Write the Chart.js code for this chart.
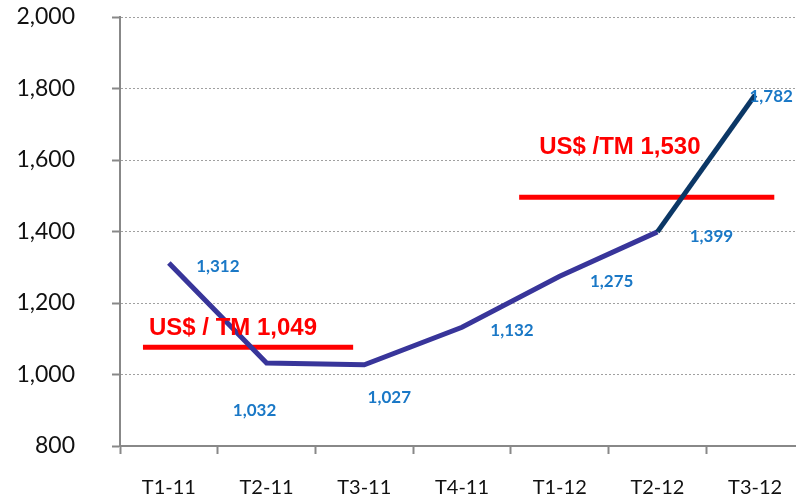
<!DOCTYPE html>
<html>
<head>
<meta charset="utf-8">
<script src="https://cdn.jsdelivr.net/npm/chart.js@4.4.0/dist/chart.umd.min.js"></script>
<style>
  body { margin: 0; background: #fff; overflow: hidden; }
  #wrap { width: 810px; height: 502px; position: relative; }
</style>
</head>
<body>
<div id="wrap"><canvas id="myChart"></canvas></div>
<script>
  // donnees
  var quarters = ['T1-11', 'T2-11', 'T3-11', 'T4-11', 'T1-12', 'T2-12', 'T3-12'];
  var prices = [1312, 1032, 1027, 1132, 1275, 1399, 1782];
  var priceLabels = ['1,312', '1,032', '1,027', '1,132', '1,275', '1,399', '1,782'];
  var yTicks = [800, 1000, 1200, 1400, 1600, 1800, 2000];

  // lignes rouges de prix moyen (niveau, debut, fin en index de trimestre)
  var avgLevels = [1076, 1496];
  var avgStart = [-0.265, 3.585];
  var avgEnd = [1.886, 6.196];
  var avgTexts = ['US$ / TM 1,049', 'US$ /TM 1,530'];

  // decalage des etiquettes par rapport aux points (px)
  var labelOffsets = [[49, 4], [-12, 47], [25, 33], [50, 3], [52, 5], [54, 5], [16, 2]];
  var avgTextOffsets = [[6, -19], [20, -50]];

  var datasets = [{
    label: 'prix',
    data: prices,
    xAxisID: 'x',
    borderColor: '#38359a',
    borderWidth: 5,
    pointRadius: 0,
    tension: 0,
    fill: false,
    segment: {
      borderColor: function(ctx) { return ctx.p1DataIndex === 6 ? '#0b3766' : '#38359a'; }
    },
    order: 1
  }];
  avgLevels.forEach(function(v, i) {
    datasets.push({
      label: 'moyenne' + i,
      data: [{x: avgStart[i], y: v}, {x: avgEnd[i], y: v}],
      xAxisID: 'xr',
      borderColor: '#ff0000',
      borderWidth: 5,
      borderCapStyle: 'butt',
      pointRadius: 0,
      fill: false,
      order: 2
    });
  });

  var textPlugin = {
    id: 'textPlugin',
    afterDatasetsDraw: function(chart) {
      var ctx = chart.ctx;
      var meta = chart.getDatasetMeta(0);
      ctx.save();
      ctx.font = 'bold 17px Lato';
      ctx.fillStyle = '#1a78c6';
      ctx.textAlign = 'center';
      ctx.textBaseline = 'middle';
      meta.data.forEach(function(pt, i) {
        ctx.fillText(priceLabels[i], pt.x + labelOffsets[i][0], pt.y + labelOffsets[i][1]);
      });
      ctx.font = 'bold 24px "Liberation Sans", Arial';
      ctx.fillStyle = '#ff0000';
      ctx.textAlign = 'left';
      var xr = chart.scales.xr, y = chart.scales.y;
      avgLevels.forEach(function(v, i) {
        var px = xr.getPixelForValue(avgStart[i]);
        var py = y.getPixelForValue(v);
        ctx.fillText(avgTexts[i], px + avgTextOffsets[i][0], py + avgTextOffsets[i][1]);
      });
      ctx.restore();
    }
  };

  var ctx = document.getElementById('myChart').getContext('2d');
  var myChart = new Chart(ctx, {
    type: 'line',
    data: { labels: quarters, datasets: datasets },
    plugins: [textPlugin],
    options: {
      responsive: true,
      maintainAspectRatio: false,
      animation: false,
      layout: { padding: { top: 17, right: 6, left: 0, bottom: 0 } },
      plugins: { legend: { display: false }, tooltip: { enabled: false } },
      scales: {
        x: {
          type: 'category',
          offset: true,
          grid: {
            offset: true,
            drawOnChartArea: false,
            drawTicks: true,
            tickLength: 8,
            tickColor: '#888',
            tickWidth: 2
          },
          border: { display: true, color: '#888', width: 2 },
          ticks: { color: '#111', font: { family: 'Lato', size: 20 }, padding: 22, maxRotation: 0 },
          afterFit: function(scale) {
            scale.height = 56;
            scale.paddingLeft = 0;
            scale.paddingRight = 0;
          }
        },
        xr: {
          type: 'linear',
          display: false,
          min: -0.5,
          max: 6.5
        },
        y: {
          min: 800,
          max: 2000,
          afterBuildTicks: function(scale) {
            scale.ticks = yTicks.map(function(v) { return { value: v }; });
          },
          grid: {
            color: function(c) { return c.tick && c.tick.value === 800 ? 'rgba(0,0,0,0)' : '#a0a0a0'; },
            lineWidth: 1,
            drawTicks: true,
            tickLength: 8,
            tickColor: '#888',
            tickWidth: 2,
            tickBorderDash: []
          },
          border: { display: true, color: '#888', width: 2, dash: [2, 2] },
          ticks: {
            color: '#111',
            font: { family: 'Lato', size: 23 },
            padding: 37,
            callback: function(v) { return v.toLocaleString('en-US'); }
          },
          afterFit: function(scale) {
            scale.width = 120;
            scale.paddingTop = 0;
            scale.paddingBottom = 0;
          }
        }
      }
    }
  });
</script>
</body>
</html>
